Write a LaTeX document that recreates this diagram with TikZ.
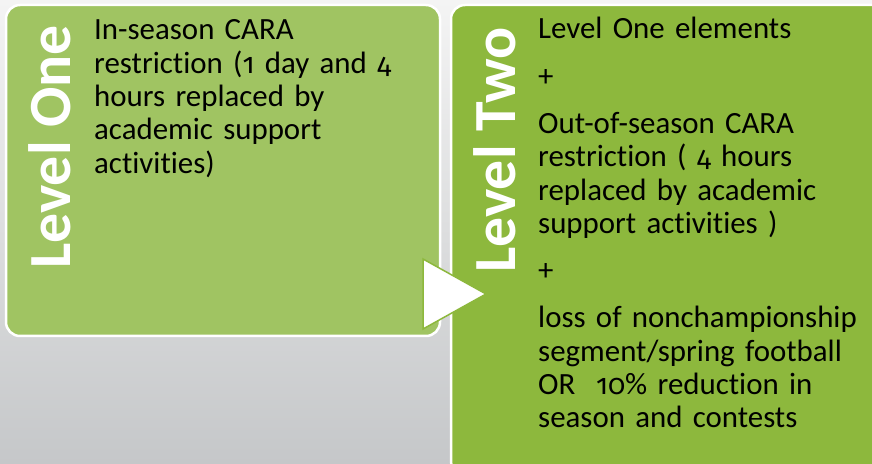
\documentclass[tikz,border=0pt]{standalone}
\usepackage{fontspec}
\setmainfont{Carlito}[Ligatures=NoCommon]
\newfontfamily\osf{Fira Sans}[Numbers=OldStyle, Scale=0.92]
\newcommand{\onum}[1]{{\osf #1}}
\definecolor{bgtop}{HTML}{F4F4F4}
\definecolor{bgbot}{HTML}{C5C7C9}
\definecolor{gOne}{HTML}{A0C462}
\definecolor{gTwo}{HTML}{8DB83D}
\tikzset{
  panel/.style={draw=white, line width=2.5bp, rounded corners=14bp},
  body/.style={font=\fontsize{31}{33.4}\selectfont, text width=360bp, align=left, inner sep=0pt, anchor=base west, text=black},
  levellabel/.style={font=\fontsize{60}{62}\selectfont\bfseries, text=white, rotate=90, anchor=base west, inner sep=0pt},
  arrowtri/.style={fill=white, draw=gTwo, line width=1.5bp, line join=miter}
}
\begin{document}
\begin{tikzpicture}[x=1bp,y=-1bp]
\useasboundingbox (0,0) rectangle (872,464);
\clip (0,0) rectangle (872,464);
\shade[top color=bgtop, bottom color=bgbot] (0,0) rectangle (872,464);
% panels
\draw[panel, fill=gOne] (6,5) rectangle (440,336);
\draw[panel, fill=gTwo] (451,5) rectangle (890,475);
% vertical titles
\node[levellabel] (l1) at (70,269) {Level One};
\node[levellabel] (l2) at (515,273) {Level Two};
% texts
\node[body] (t1) at (94,40) {In-season CARA\\restriction (\onum{1} day and \onum{4}\\hours replaced by\\academic support\\activities)};
\node[body] (t2) at (538,39) {Level One elements\\[14bp]+\\[14bp]Out-of-season CARA\\restriction ( \onum{4} hours\\replaced by academic\\support activities )\\[14bp]+\\[14bp]loss of nonchampionship\\segment/spring football\\OR\ \ \onum{10}\% reduction in\\season and contests};
% arrow triangle
\draw[arrowtri] (423,259) -- (486,294) -- (423,329) -- cycle;
\end{tikzpicture}
\end{document}
